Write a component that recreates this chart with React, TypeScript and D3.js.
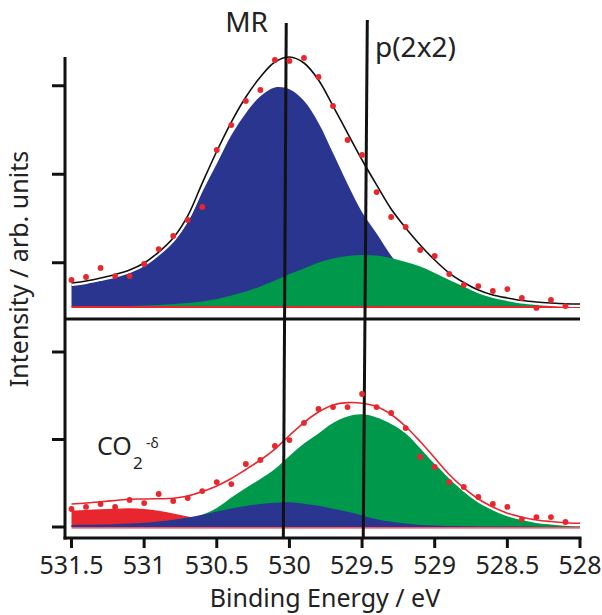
import React from 'react';
import * as d3 from 'd3';

// Binding energies (eV) of the fit grid and of the measured points
const energies = [531.5, 531.4, 531.3, 531.2, 531.1, 531.0, 530.9, 530.8, 530.7, 530.6, 530.5, 530.4, 530.3, 530.2, 530.1, 530.0, 529.9, 529.8, 529.7, 529.6, 529.5, 529.4, 529.3, 529.2, 529.1, 529.0, 528.9, 528.8, 528.7, 528.6, 528.5, 528.4, 528.3, 528.2, 528.1, 528.0];
const dotEnergies = [531.5, 531.4, 531.3, 531.2, 531.1, 531.0, 530.9, 530.8, 530.7, 530.6, 530.5, 530.4, 530.3, 530.2, 530.1, 530.0, 529.9, 529.8, 529.7, 529.6, 529.5, 529.4, 529.3, 529.2, 529.1, 529.0, 528.9, 528.8, 528.7, 528.6, 528.5, 528.4, 528.3, 528.2, 528.1];

// Upper panel
const upperData = [0.305, 0.339, 0.441, 0.350, 0.350, 0.486, 0.655, 0.802, 0.983, 1.130, 1.774, 2.056, 2.328, 2.452, 2.791, 2.780, 2.814, 2.599, 2.271, 1.887, 1.718, 1.299, 1.017, 0.904, 0.644, 0.576, 0.373, 0.249, 0.237, 0.181, 0.203, 0.102, -0.011, 0.079, 0.011];
const upperFit = [0.271, 0.294, 0.328, 0.367, 0.418, 0.497, 0.621, 0.780, 1.030, 1.400, 1.760, 2.090, 2.373, 2.599, 2.768, 2.825, 2.757, 2.565, 2.271, 1.966, 1.661, 1.379, 1.107, 0.893, 0.701, 0.531, 0.384, 0.277, 0.192, 0.136, 0.102, 0.073, 0.056, 0.045, 0.037, 0.034];
const upperMR = [0.255, 0.278, 0.315, 0.352, 0.398, 0.468, 0.585, 0.740, 0.960, 1.300, 1.620, 1.940, 2.190, 2.380, 2.480, 2.460, 2.330, 2.080, 1.740, 1.390, 1.070, 0.830, 0.580, 0.385, 0.243, 0.147, 0.079, 0.045, 0.034, 0.023, 0.018, 0.014, 0.012, 0.010, 0.009, 0.008];
const upperP22 = [0.003, 0.004, 0.006, 0.008, 0.011, 0.017, 0.023, 0.034, 0.045, 0.062, 0.090, 0.130, 0.175, 0.232, 0.299, 0.373, 0.435, 0.503, 0.548, 0.576, 0.588, 0.582, 0.554, 0.508, 0.458, 0.384, 0.305, 0.232, 0.158, 0.113, 0.079, 0.056, 0.042, 0.034, 0.028, 0.023];

// Lower panel
const lowerData = [0.206, 0.229, 0.263, 0.229, 0.309, 0.274, 0.377, 0.297, 0.331, 0.411, 0.514, 0.491, 0.720, 0.766, 0.926, 0.994, 1.189, 1.349, 1.371, 1.371, 1.520, 1.371, 1.303, 1.131, 0.800, 0.686, 0.514, 0.457, 0.343, 0.263, 0.229, 0.091, 0.114, 0.114, 0.057];
const lowerFit = [0.263, 0.274, 0.289, 0.303, 0.317, 0.320, 0.323, 0.328, 0.354, 0.406, 0.469, 0.554, 0.657, 0.766, 0.891, 1.046, 1.194, 1.314, 1.394, 1.421, 1.414, 1.377, 1.286, 1.149, 0.977, 0.789, 0.600, 0.446, 0.320, 0.229, 0.158, 0.112, 0.080, 0.062, 0.049, 0.042];
const lowerP22 = [0.006, 0.008, 0.011, 0.016, 0.023, 0.031, 0.042, 0.059, 0.095, 0.140, 0.217, 0.337, 0.446, 0.549, 0.663, 0.811, 0.954, 1.069, 1.189, 1.263, 1.288, 1.251, 1.177, 1.069, 0.900, 0.720, 0.571, 0.434, 0.320, 0.229, 0.160, 0.109, 0.077, 0.057, 0.046, 0.034];
const lowerMR = [0.023, 0.025, 0.029, 0.032, 0.039, 0.048, 0.063, 0.083, 0.109, 0.139, 0.177, 0.211, 0.240, 0.263, 0.278, 0.283, 0.267, 0.242, 0.209, 0.174, 0.131, 0.089, 0.059, 0.039, 0.023, 0.016, 0.011, 0.009, 0.007, 0.006, 0.005, 0.005, 0.004, 0.004, 0.004, 0.004];
const lowerCO2 = [0.186, 0.194, 0.202, 0.209, 0.214, 0.206, 0.185, 0.154, 0.120, 0.090, 0.065, 0.044, 0.028, 0.017, 0.011, 0.008, 0.006, 0.005, 0.004, 0.003, 0.003, 0.002, 0.002, 0.002, 0.001, 0.001, 0.001, 0.001, 0.001, 0.001, 0.001, 0.001, 0.001, 0.001, 0.001, 0.001];

// Reference lines (energy at top, energy at bottom)
const mrLine = [530.022, 530.042];
const p22Line = [529.464, 529.492];

// Axis ticks
const xTicks = [531.5, 531, 530.5, 530, 529.5, 529, 528.5, 528];
const xTickLabels = ['531.5', '531', '530.5', '530', '529.5', '529', '528.5', '528'];
const upperTicks = [0.5, 1.5, 2.5];
const lowerTicks = [0, 1, 2];

const BLUE = '#29358f';
const GREEN = '#00984a';
const RED = '#e8262d';
const FONT = '"Noto Sans", "Open Sans", sans-serif';

export default function App() {
  const x = d3.scaleLinear().domain([531.5, 528]).range([71.5, 580]);
  const yU = d3.scaleLinear().domain([0, 2.5]).range([307, 85.75]);
  const yL = d3.scaleLinear().domain([0, 2]).range([527, 352]);
  const curve = d3.curveCatmullRom.alpha(0.5);

  const area = (y: d3.ScaleLinear<number, number>) =>
    d3.area<number>()
      .x((_, i) => x(energies[i]))
      .y0(y(0))
      .y1((d) => y(d))
      .curve(curve);
  const line = (y: d3.ScaleLinear<number, number>) =>
    d3.line<number>()
      .x((_, i) => x(energies[i]))
      .y((d) => y(d))
      .curve(curve);

  const axisTop = 57;
  const axisBottom = 538;
  const axisLeft = 65;
  const divider = 319;

  return (
    <svg width={602} height={615} style={{ position: 'absolute', left: 0, top: 0, background: '#fff' }}
      fontFamily={FONT}>
      {/* upper panel fills */}
      <path d={area(yU)(upperMR) || ''} fill={BLUE} />
      <path d={area(yU)(upperP22) || ''} fill={GREEN} />
      <line x1={x(531.5)} x2={x(528)} y1={yU(0)} y2={yU(0)} stroke={RED} strokeWidth={1.8} />
      <path d={line(yU)(upperFit) || ''} fill="none" stroke="#fff" strokeWidth={6} />
      <path d={line(yU)(upperFit) || ''} fill="none" stroke="#111" strokeWidth={1.6} />

      {/* lower panel fills */}
      <path d={area(yL)(lowerP22) || ''} fill={GREEN} />
      <path d={area(yL)(lowerCO2) || ''} fill={RED} />
      <path d={area(yL)(lowerMR) || ''} fill={BLUE} />
      <line x1={x(531.5)} x2={x(528)} y1={yL(0) + 0.8} y2={yL(0) + 0.8} stroke={RED} strokeWidth={1.2} />
      <path d={line(yL)(lowerFit) || ''} fill="none" stroke="#fff" strokeWidth={6} />
      <path d={line(yL)(lowerFit) || ''} fill="none" stroke={RED} strokeWidth={1.6} />

      {/* vertical reference lines */}
      <line x1={x(mrLine[0])} y1={23} x2={x(mrLine[1])} y2={axisBottom} stroke="#111" strokeWidth={3} />
      <line x1={x(p22Line[0])} y1={20} x2={x(p22Line[1])} y2={axisBottom} stroke="#111" strokeWidth={3} />

      {/* data points */}
      {upperData.map((d, i) => (
        <circle key={'u' + i} cx={x(dotEnergies[i])} cy={yU(d)} r={2.9} fill={RED} />
      ))}
      {lowerData.map((d, i) => (
        <circle key={'l' + i} cx={x(dotEnergies[i])} cy={yL(d)} r={2.9} fill={RED} />
      ))}

      {/* axes */}
      <line x1={axisLeft} x2={axisLeft} y1={axisTop} y2={axisBottom + 1.5} stroke="#111" strokeWidth={3} />
      <line x1={axisLeft - 1.5} x2={581.5} y1={axisBottom} y2={axisBottom} stroke="#111" strokeWidth={3} />
      <line x1={axisLeft} x2={580} y1={divider} y2={divider} stroke="#111" strokeWidth={3} />
      {upperTicks.map((t) => (
        <line key={'ut' + t} x1={52} x2={axisLeft} y1={yU(t)} y2={yU(t)} stroke="#111" strokeWidth={3} />
      ))}
      {lowerTicks.map((t) => (
        <line key={'lt' + t} x1={52} x2={axisLeft} y1={yL(t)} y2={yL(t)} stroke="#111" strokeWidth={3} />
      ))}
      {xTicks.map((t, i) => (
        <g key={'xt' + t}>
          <line x1={x(t)} x2={x(t)} y1={axisBottom} y2={548} stroke="#111" strokeWidth={3} />
          <text x={x(t)} y={574} textAnchor="middle" fontSize={25} fill="#222">{xTickLabels[i]}</text>
        </g>
      ))}

      {/* titles */}
      <text x={325} y={607} textAnchor="middle" fontSize={25} fill="#222">Binding Energy / eV</text>
      <text transform="translate(28,269) rotate(-90)" textAnchor="middle" fontSize={25} fill="#222">Intensity / arb. units</text>

      {/* annotations */}
      <text x={268} y={32} textAnchor="end" fontSize={28} fill="#222">MR</text>
      <text x={375} y={57} fontSize={28} fill="#222">p(2x2)</text>
      <text x={97} y={455} fontSize={25} fill="#222">CO</text>
      <text x={133} y={469} fontSize={17} fill="#222">2</text>
      <text x={146} y={448} fontSize={14} fill="#222">-δ</text>
    </svg>
  );
}
